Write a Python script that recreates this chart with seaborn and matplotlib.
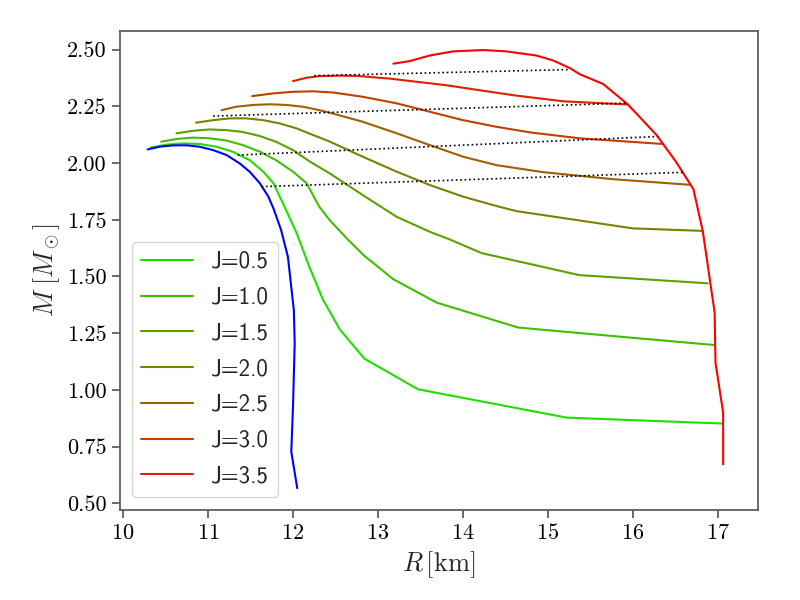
import matplotlib
matplotlib.use('Agg')
import matplotlib.pyplot as plt
import seaborn as sns
import pandas as pd

# mass-radius curves
r_static = [10.29, 10.43, 10.59, 10.75, 10.90, 11.06, 11.22, 11.37, 11.49, 11.61, 11.71, 11.77, 11.86, 11.94, 12.01, 12.02, 12.00, 11.98, 12.05]
m_static = [2.060, 2.072, 2.078, 2.078, 2.072, 2.057, 2.035, 1.999, 1.962, 1.911, 1.852, 1.800, 1.705, 1.587, 1.352, 1.206, 0.926, 0.728, 0.567]

j_labels = ['J=0.5', 'J=1.0', 'J=1.5', 'J=2.0', 'J=2.5', 'J=3.0', 'J=3.5']
j_colors = ['#20df00', '#40bf00', '#609f00', '#808000', '#9f6000', '#bf4000', '#df2000']

r_j05 = [10.33, 10.51, 10.71, 10.90, 11.10, 11.29, 11.49, 11.65, 11.77, 11.86, 12.04, 12.19, 12.35, 12.55, 12.84, 13.47, 15.22, 17.06]
m_j05 = [2.069, 2.081, 2.087, 2.084, 2.072, 2.050, 2.013, 1.962, 1.911, 1.840, 1.694, 1.545, 1.400, 1.267, 1.138, 1.003, 0.878, 0.852]
r_j10 = [10.45, 10.63, 10.82, 11.02, 11.22, 11.41, 11.61, 11.80, 12.00, 12.16, 12.31, 12.43, 12.65, 12.84, 13.18, 13.69, 14.65, 15.96, 16.96]
m_j10 = [2.094, 2.106, 2.112, 2.109, 2.099, 2.079, 2.050, 2.013, 1.962, 1.911, 1.807, 1.749, 1.661, 1.591, 1.488, 1.385, 1.275, 1.231, 1.198]
r_j15 = [10.63, 10.82, 11.02, 11.22, 11.41, 11.61, 11.80, 12.00, 12.20, 12.43, 12.82, 13.22, 13.61, 13.84, 14.22, 15.37, 16.88]
m_j15 = [2.131, 2.142, 2.148, 2.145, 2.137, 2.119, 2.094, 2.057, 2.006, 1.955, 1.859, 1.763, 1.697, 1.664, 1.603, 1.506, 1.470]
r_j20 = [10.86, 11.06, 11.26, 11.45, 11.65, 11.84, 12.04, 12.24, 12.43, 12.82, 13.22, 13.61, 14.00, 14.39, 14.63, 16.00, 16.82]
m_j20 = [2.178, 2.189, 2.197, 2.197, 2.189, 2.175, 2.153, 2.123, 2.095, 2.028, 1.962, 1.903, 1.852, 1.811, 1.788, 1.712, 1.701]
r_j25 = [11.16, 11.33, 11.53, 11.73, 11.92, 12.12, 12.31, 12.43, 12.82, 13.22, 13.61, 14.00, 14.39, 14.94, 15.76, 16.67]
m_j25 = [2.233, 2.248, 2.256, 2.259, 2.256, 2.248, 2.233, 2.222, 2.182, 2.131, 2.079, 2.028, 1.991, 1.960, 1.929, 1.904]
r_j30 = [11.52, 11.77, 12.00, 12.24, 12.47, 12.82, 13.22, 13.61, 14.00, 14.39, 14.79, 15.37, 16.35]
m_j30 = [2.295, 2.307, 2.314, 2.316, 2.311, 2.292, 2.263, 2.226, 2.189, 2.160, 2.135, 2.109, 2.084]
r_j35 = [12.00, 12.16, 12.31, 12.55, 12.75, 13.14, 13.80, 14.59, 15.18, 15.94]
m_j35 = [2.361, 2.376, 2.383, 2.385, 2.384, 2.372, 2.343, 2.299, 2.272, 2.258]
r_curves = [r_j05, r_j10, r_j15, r_j20, r_j25, r_j30, r_j35]
m_curves = [m_j05, m_j10, m_j15, m_j20, m_j25, m_j30, m_j35]

# Kepler limit / supramassive envelope
r_kepler = [13.18, 13.37, 13.61, 13.88, 14.24, 14.51, 14.86, 15.06, 15.26, 15.37, 15.65, 15.94, 16.28, 16.51, 16.71, 16.82, 16.96, 16.97, 17.06, 17.06]
m_kepler = [2.438, 2.449, 2.474, 2.492, 2.498, 2.492, 2.474, 2.452, 2.418, 2.392, 2.348, 2.258, 2.122, 2.003, 1.885, 1.701, 1.341, 1.120, 0.900, 0.672]

# dotted constant-baryon-mass lines (start, end)
dot_r = [(11.63, 16.59), (11.35, 16.29), (11.06, 15.92), (12.25, 15.26)]
dot_m = [(1.896, 1.959), (2.035, 2.117), (2.207, 2.264), (2.385, 2.412)]

sns.set_theme(style='ticks')
plt.rcParams['font.family'] = ['serif']
plt.rcParams['font.serif'] = ['cmr10', 'DejaVu Serif']
plt.rcParams['mathtext.fontset'] = 'cm'
plt.rcParams['axes.formatter.use_mathtext'] = True
plt.rcParams['axes.unicode_minus'] = False
plt.rcParams['axes.edgecolor'] = '.35'
plt.rcParams['xtick.color'] = '.35'
plt.rcParams['ytick.color'] = '.35'
plt.rcParams['xtick.labelcolor'] = 'black'
plt.rcParams['ytick.labelcolor'] = 'black'

fig, ax = plt.subplots(figsize=(8, 6), dpi=100)
fig.subplots_adjust(left=0.15, right=0.9475, top=0.948, bottom=0.15)

for i in range(len(j_labels)):
    df = pd.DataFrame({'R': r_curves[i], 'M': m_curves[i]})
    sns.lineplot(data=df, x='R', y='M', sort=False, estimator=None, color=j_colors[i],
                 linewidth=1.5, label=j_labels[i], ax=ax)

sns.lineplot(x=r_static, y=m_static, sort=False, estimator=None, color='blue', linewidth=1.5, ax=ax)
sns.lineplot(x=r_kepler, y=m_kepler, sort=False, estimator=None, color='red', linewidth=1.5, ax=ax)

for rr, mm in zip(dot_r, dot_m):
    ax.plot(rr, mm, color='black', linestyle=':', linewidth=1.2)

ax.set_xlim(9.965, 17.47)
ax.set_ylim(0.471, 2.581)
ax.set_xticks([10, 11, 12, 13, 14, 15, 16, 17])
ax.set_yticks([0.5, 0.75, 1.0, 1.25, 1.5, 1.75, 2.0, 2.25, 2.5])
ax.set_yticklabels(['%.2f' % v for v in [0.5, 0.75, 1.0, 1.25, 1.5, 1.75, 2.0, 2.25, 2.5]])
ax.tick_params(labelsize=16)
ax.set_xlabel(r'$R\,[\mathrm{km}]$', fontsize=19)
ax.set_ylabel(r'$M\;[M_\odot]$', fontsize=19)

ax.legend(loc='lower left', bbox_to_anchor=(0.019, 0.028), borderaxespad=0,
          prop={'family': 'cmss10', 'size': 16.5}, handlelength=2.25, labelspacing=0.6)

plt.savefig('out.png', dpi=100)
